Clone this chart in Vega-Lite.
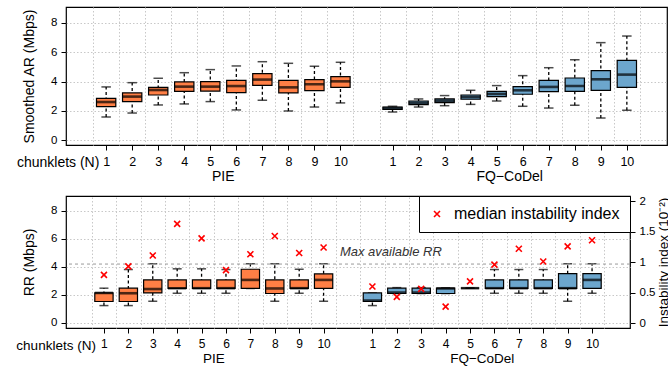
{
  "$schema": "https://vega.github.io/schema/vega-lite/v6.json",
  "padding": {"left": 15, "top": 6, "right": 0, "bottom": 0},
  "spacing": 9,
  "config": {
    "font": "Liberation Sans",
    "view": {"stroke": "black", "strokeWidth": 1.2},
    "axis": {
      "labelFont": "Liberation Sans", "titleFont": "Liberation Sans",
      "labelColor": "black", "titleColor": "black", "titleFontWeight": "normal",
      "tickColor": "black", "domain": false, "labelFontSize": 12, "titleFontSize": 14,
      "gridColor": "#c8c8c8", "gridDash": [1.5, 2], "gridWidth": 1, "labelOverlap": false
    },
    "text": {"font": "Liberation Sans", "color": "black"}
  },
  "resolve": {"scale": {"stroke": "independent", "fill": "independent"}, "legend": {"stroke": "independent", "fill": "independent"}},
  "datasets": {
    "ar": [
      {"group": "PIE", "n": 1, "lo": 1.59, "q1": 2.30, "med": 2.61, "q3": 2.86, "hi": 3.64},
      {"group": "PIE", "n": 2, "lo": 1.86, "q1": 2.64, "med": 2.98, "q3": 3.23, "hi": 3.93},
      {"group": "PIE", "n": 3, "lo": 2.41, "q1": 3.09, "med": 3.43, "q3": 3.61, "hi": 4.23},
      {"group": "PIE", "n": 4, "lo": 2.48, "q1": 3.34, "med": 3.66, "q3": 3.98, "hi": 4.61},
      {"group": "PIE", "n": 5, "lo": 2.64, "q1": 3.36, "med": 3.66, "q3": 4.00, "hi": 4.82},
      {"group": "PIE", "n": 6, "lo": 2.07, "q1": 3.25, "med": 3.70, "q3": 4.09, "hi": 5.07},
      {"group": "PIE", "n": 7, "lo": 2.73, "q1": 3.75, "med": 4.14, "q3": 4.55, "hi": 5.36},
      {"group": "PIE", "n": 8, "lo": 2.00, "q1": 3.23, "med": 3.61, "q3": 4.09, "hi": 5.25},
      {"group": "PIE", "n": 9, "lo": 2.27, "q1": 3.39, "med": 3.82, "q3": 4.14, "hi": 5.05},
      {"group": "PIE", "n": 10, "lo": 2.55, "q1": 3.61, "med": 4.02, "q3": 4.34, "hi": 5.32},
      {"group": "FQ−CoDel", "n": 1, "lo": 1.93, "q1": 2.11, "med": 2.20, "q3": 2.27, "hi": 2.32},
      {"group": "FQ−CoDel", "n": 2, "lo": 2.27, "q1": 2.43, "med": 2.55, "q3": 2.68, "hi": 2.82},
      {"group": "FQ−CoDel", "n": 3, "lo": 2.36, "q1": 2.57, "med": 2.70, "q3": 2.82, "hi": 3.05},
      {"group": "FQ−CoDel", "n": 4, "lo": 2.45, "q1": 2.80, "med": 2.95, "q3": 3.09, "hi": 3.41},
      {"group": "FQ−CoDel", "n": 5, "lo": 2.68, "q1": 2.98, "med": 3.16, "q3": 3.34, "hi": 3.73},
      {"group": "FQ−CoDel", "n": 6, "lo": 2.32, "q1": 3.14, "med": 3.41, "q3": 3.66, "hi": 4.41},
      {"group": "FQ−CoDel", "n": 7, "lo": 2.20, "q1": 3.32, "med": 3.64, "q3": 4.09, "hi": 4.95},
      {"group": "FQ−CoDel", "n": 8, "lo": 2.39, "q1": 3.34, "med": 3.70, "q3": 4.25, "hi": 5.50},
      {"group": "FQ−CoDel", "n": 9, "lo": 1.52, "q1": 3.41, "med": 4.16, "q3": 4.75, "hi": 6.66},
      {"group": "FQ−CoDel", "n": 10, "lo": 2.05, "q1": 3.61, "med": 4.48, "q3": 5.45, "hi": 7.11}
    ],
    "rr": [
      {"group": "PIE", "n": 1, "lo": 1.24, "q1": 1.53, "med": 2.14, "q3": 2.14, "hi": 2.48, "instab": 0.79},
      {"group": "PIE", "n": 2, "lo": 1.24, "q1": 1.53, "med": 2.12, "q3": 2.48, "hi": 3.81, "instab": 0.93},
      {"group": "PIE", "n": 3, "lo": 1.55, "q1": 2.14, "med": 2.42, "q3": 3.07, "hi": 4.22, "instab": 1.11},
      {"group": "PIE", "n": 4, "lo": 2.12, "q1": 2.46, "med": 2.48, "q3": 3.07, "hi": 3.86, "instab": 1.63},
      {"group": "PIE", "n": 5, "lo": 2.12, "q1": 2.46, "med": 2.48, "q3": 3.07, "hi": 3.86, "instab": 1.39},
      {"group": "PIE", "n": 6, "lo": 2.12, "q1": 2.46, "med": 2.48, "q3": 3.07, "hi": 3.81, "instab": 0.87},
      {"group": "PIE", "n": 7, "lo": 2.46, "q1": 2.46, "med": 3.07, "q3": 3.83, "hi": 4.22, "instab": 1.13},
      {"group": "PIE", "n": 8, "lo": 1.55, "q1": 2.10, "med": 2.46, "q3": 3.07, "hi": 4.22, "instab": 1.43},
      {"group": "PIE", "n": 9, "lo": 2.12, "q1": 2.46, "med": 2.48, "q3": 3.07, "hi": 3.83, "instab": 1.15},
      {"group": "PIE", "n": 10, "lo": 1.55, "q1": 2.46, "med": 3.07, "q3": 3.50, "hi": 4.22, "instab": 1.24},
      {"group": "FQ−CoDel", "n": 1, "lo": 1.24, "q1": 1.53, "med": 1.60, "q3": 2.14, "hi": 2.14, "instab": 0.60},
      {"group": "FQ−CoDel", "n": 2, "lo": 2.10, "q1": 2.10, "med": 2.17, "q3": 2.48, "hi": 2.52, "instab": 0.43},
      {"group": "FQ−CoDel", "n": 3, "lo": 2.10, "q1": 2.10, "med": 2.17, "q3": 2.48, "hi": 2.52, "instab": 0.56},
      {"group": "FQ−CoDel", "n": 4, "lo": 2.10, "q1": 2.10, "med": 2.46, "q3": 2.48, "hi": 2.50, "instab": 0.27},
      {"group": "FQ−CoDel", "n": 5, "lo": 2.48, "q1": 2.48, "med": 2.48, "q3": 2.48, "hi": 2.48, "instab": 0.685},
      {"group": "FQ−CoDel", "n": 6, "lo": 2.12, "q1": 2.46, "med": 2.48, "q3": 3.07, "hi": 3.81, "instab": 0.96},
      {"group": "FQ−CoDel", "n": 7, "lo": 2.12, "q1": 2.46, "med": 2.48, "q3": 3.07, "hi": 3.81, "instab": 1.22},
      {"group": "FQ−CoDel", "n": 8, "lo": 2.12, "q1": 2.46, "med": 2.48, "q3": 3.07, "hi": 3.81, "instab": 1.01},
      {"group": "FQ−CoDel", "n": 9, "lo": 1.55, "q1": 2.46, "med": 2.48, "q3": 3.52, "hi": 4.22, "instab": 1.26},
      {"group": "FQ−CoDel", "n": 10, "lo": 2.12, "q1": 2.46, "med": 3.07, "q3": 3.52, "hi": 4.22, "instab": 1.36}
    ]
  },
  "vconcat": [
    {
      "width": 601, "height": 138,
      "data": {"name": "ar"},
      "transform": [{"calculate": "datum.group === 'PIE' ? datum.n : datum.n + 11", "as": "pos"}],
      "layer": [
        {
          "mark": {"type": "rule", "strokeDash": [3, 2.5], "strokeWidth": 1.3, "color": "black"},
          "encoding": {
            "x": {"field": "pos", "type": "quantitative",
                  "scale": {"domain": [-0.35, 22.35], "nice": false, "zero": false},
                  "axis": {"orient": "top", "values": [0.5,1.5,2.5,3.5,4.5,5.5,6.5,7.5,8.5,9.5,10.5,11.5,12.5,13.5,14.5,15.5,16.5,17.5,18.5,19.5,20.5,21.5],
                           "labels": false, "ticks": false, "domain": false, "grid": true, "title": null}},
            "y": {"field": "lo", "type": "quantitative",
                  "scale": {"domain": [-0.32, 9.09], "nice": false, "zero": false},
                  "axis": {"orient": "left", "values": [0, 2, 4, 6, 8], "title": "Smoothed AR (Mbps)", "grid": true, "tickSize": 5, "labelPadding": 4, "titlePadding": 14, "labelFontSize": 11.5, "labelOverlap": false, "labelBound": false}},
            "y2": {"field": "hi"}
          }
        },
        {
          "mark": {"type": "tick", "orient": "horizontal", "size": 9.5, "thickness": 1.5, "color": "black"},
          "encoding": {
            "x": {"field": "pos", "type": "quantitative", "axis": null},
            "y": {"field": "lo", "type": "quantitative", "axis": null}
          }
        },
        {
          "mark": {"type": "tick", "orient": "horizontal", "size": 9.5, "thickness": 1.5, "color": "black"},
          "encoding": {
            "x": {"field": "pos", "type": "quantitative", "axis": null},
            "y": {"field": "hi", "type": "quantitative", "axis": null}
          }
        },
        {
          "mark": {"type": "bar", "width": 19.3, "stroke": "black", "strokeWidth": 1.2},
          "encoding": {
            "x": {"field": "pos", "type": "quantitative",
                  "axis": {"orient": "bottom", "values": [1,2,3,4,5,6,7,8,9,10,12,13,14,15,16,17,18,19,20,21],
                           "labelExpr": "datum.value > 11 ? datum.value - 11 : datum.value",
                           "title": null, "grid": false, "tickSize": 5, "labelPadding": 5, "labelFontSize": 12.5, "labelOverlap": false}},
            "y": {"field": "q1", "type": "quantitative", "axis": null},
            "y2": {"field": "q3"},
            "fill": {"field": "group", "type": "nominal",
                     "scale": {"domain": ["PIE", "FQ−CoDel"], "range": ["#FF7F45", "#6CA6CD"]}, "legend": null}
          }
        },
        {
          "mark": {"type": "tick", "orient": "horizontal", "size": 19.3, "thickness": 2.6, "color": "black"},
          "encoding": {
            "x": {"field": "pos", "type": "quantitative", "axis": null},
            "y": {"field": "med", "type": "quantitative", "axis": null}
          }
        },
        {
          "transform": [{"aggregate": [{"op": "mean", "field": "pos", "as": "pos"}], "groupby": ["group"]}],
          "mark": {"type": "text", "fontSize": 14, "baseline": "middle", "align": "center"},
          "encoding": {
            "x": {"field": "pos", "type": "quantitative", "axis": null},
            "y": {"datum": -2.5, "type": "quantitative", "axis": null},
            "text": {"field": "group"}
          }
        },
        {
          "data": {"values": [{}]},
          "mark": {"type": "text", "text": "chunklets (N)", "fontSize": 14, "baseline": "middle", "align": "right"},
          "encoding": {
            "x": {"datum": 0.74, "type": "quantitative", "axis": null},
            "y": {"datum": -1.55, "type": "quantitative", "axis": null}
          }
        }
      ],
      "resolve": {"axis": {"x": "independent", "y": "independent"}}
    },
    {
      "width": 564, "height": 132,
      "data": {"name": "rr"},
      "transform": [{"calculate": "datum.group === 'PIE' ? datum.n : datum.n + 11", "as": "pos"}],
      "layer": [
        {
          "layer": [
            {
              "mark": {"type": "rule", "strokeDash": [3, 2.5], "strokeWidth": 1.3, "color": "black"},
              "encoding": {
                "x": {"field": "pos", "type": "quantitative",
                      "scale": {"domain": [-0.35, 22.35], "nice": false, "zero": false},
                      "axis": {"orient": "top", "values": [0.5,1.5,2.5,3.5,4.5,5.5,6.5,7.5,8.5,9.5,10.5,11.5,12.5,13.5,14.5,15.5,16.5,17.5,18.5,19.5,20.5,21.5],
                               "labels": false, "ticks": false, "domain": false, "grid": true, "title": null}},
                "y": {"field": "lo", "type": "quantitative",
                      "scale": {"domain": [-0.357, 9.05], "nice": false, "zero": false},
                      "axis": {"orient": "left", "values": [0, 2, 4, 6, 8], "title": "RR (Mbps)", "grid": true, "tickSize": 5, "labelPadding": 4, "titlePadding": 14, "labelFontSize": 11.5, "labelOverlap": false, "labelBound": false}},
                "y2": {"field": "hi"}
              }
            },
            {
              "mark": {"type": "tick", "orient": "horizontal", "size": 9, "thickness": 1.5, "color": "black"},
              "encoding": {
                "x": {"field": "pos", "type": "quantitative", "axis": null},
                "y": {"field": "lo", "type": "quantitative", "axis": null}
              }
            },
            {
              "mark": {"type": "tick", "orient": "horizontal", "size": 9, "thickness": 1.5, "color": "black"},
              "encoding": {
                "x": {"field": "pos", "type": "quantitative", "axis": null},
                "y": {"field": "hi", "type": "quantitative", "axis": null}
              }
            },
            {
              "mark": {"type": "bar", "width": 18.3, "stroke": "black", "strokeWidth": 1.2},
              "encoding": {
                "x": {"field": "pos", "type": "quantitative",
                      "axis": {"orient": "bottom", "values": [1,2,3,4,5,6,7,8,9,10,12,13,14,15,16,17,18,19,20,21],
                               "labelExpr": "datum.value > 11 ? datum.value - 11 : datum.value",
                               "title": null, "grid": false, "tickSize": 5, "labelPadding": 5, "labelFontSize": 12, "labelOverlap": false}},
                "y": {"field": "q1", "type": "quantitative", "axis": null},
                "y2": {"field": "q3"},
                "fill": {"field": "group", "type": "nominal",
                         "scale": {"domain": ["PIE", "FQ−CoDel"], "range": ["#FF7F45", "#6CA6CD"]}, "legend": null}
              }
            },
            {
              "mark": {"type": "tick", "orient": "horizontal", "size": 18.3, "thickness": 2.6, "color": "black"},
              "encoding": {
                "x": {"field": "pos", "type": "quantitative", "axis": null},
                "y": {"field": "med", "type": "quantitative", "axis": null}
              }
            },
            {
              "data": {"values": [{}]},
              "mark": {"type": "rule", "strokeDash": [3, 3], "strokeWidth": 1, "color": "#999999"},
              "encoding": {
                "y": {"datum": 4.2, "type": "quantitative", "axis": null}
              }
            },
            {
              "data": {"values": [{}]},
              "mark": {"type": "text", "text": "Max available RR", "fontSize": 13, "fontStyle": "italic", "baseline": "middle", "align": "left", "color": "#333333"},
              "encoding": {
                "x": {"datum": 10.67, "type": "quantitative", "axis": null},
                "y": {"datum": 5.07, "type": "quantitative", "axis": null}
              }
            },
            {
              "transform": [{"aggregate": [{"op": "mean", "field": "pos", "as": "pos"}], "groupby": ["group"]}],
              "mark": {"type": "text", "fontSize": 13.5, "baseline": "middle", "align": "center"},
              "encoding": {
                "x": {"field": "pos", "type": "quantitative", "axis": null},
                "y": {"datum": -2.6, "type": "quantitative", "axis": null},
                "text": {"field": "group"}
              }
            },
            {
              "data": {"values": [{}]},
              "mark": {"type": "text", "text": "chunklets (N)", "fontSize": 13.5, "baseline": "middle", "align": "right"},
              "encoding": {
                "x": {"datum": 0.67, "type": "quantitative", "axis": null},
                "y": {"datum": -1.66, "type": "quantitative", "axis": null}
              }
            }
          ],
          "resolve": {"axis": {"x": "independent", "y": "independent"}}
        },
        {
          "mark": {"type": "point", "shape": "M-1,-1L1,1M-1,1L1,-1", "filled": false, "size": 36, "strokeWidth": 1.6, "opacity": 1},
          "encoding": {
            "x": {"field": "pos", "type": "quantitative", "axis": null},
            "y": {"field": "instab", "type": "quantitative",
                  "scale": {"domain": [-0.082, 2.087], "nice": false, "zero": false},
                  "axis": {"orient": "right", "values": [0, 0.5, 1, 1.5, 2], "format": "~g", "title": "Instability index (10⁻²)",
                           "titleAngle": 270, "titleBaseline": "top", "grid": false, "tickSize": 5, "labelPadding": 4, "titlePadding": 2,
                           "titleFontSize": 13.5, "labelFontSize": 11.5, "labelOverlap": false, "labelBound": false}},
            "stroke": {"datum": "median instability index", "type": "nominal",
                       "scale": {"range": ["#FF0000"]},
                       "legend": {"orient": "top-right", "offset": 0, "title": null, "strokeColor": "black", "fillColor": "white",
                                  "padding": 10, "labelFontSize": 16, "labelFont": "Liberation Sans", "labelColor": "black", "labelLimit": 0,
                                  "symbolType": "M-1,-1L1,1M-1,1L1,-1", "symbolSize": 36, "symbolStrokeWidth": 1.6,
                                  "symbolFillColor": "transparent", "labelOffset": 9, "cornerRadius": 0}}
          }
        }
      ],
      "resolve": {"scale": {"y": "independent"}, "axis": {"x": "independent"}}
    }
  ]
}
